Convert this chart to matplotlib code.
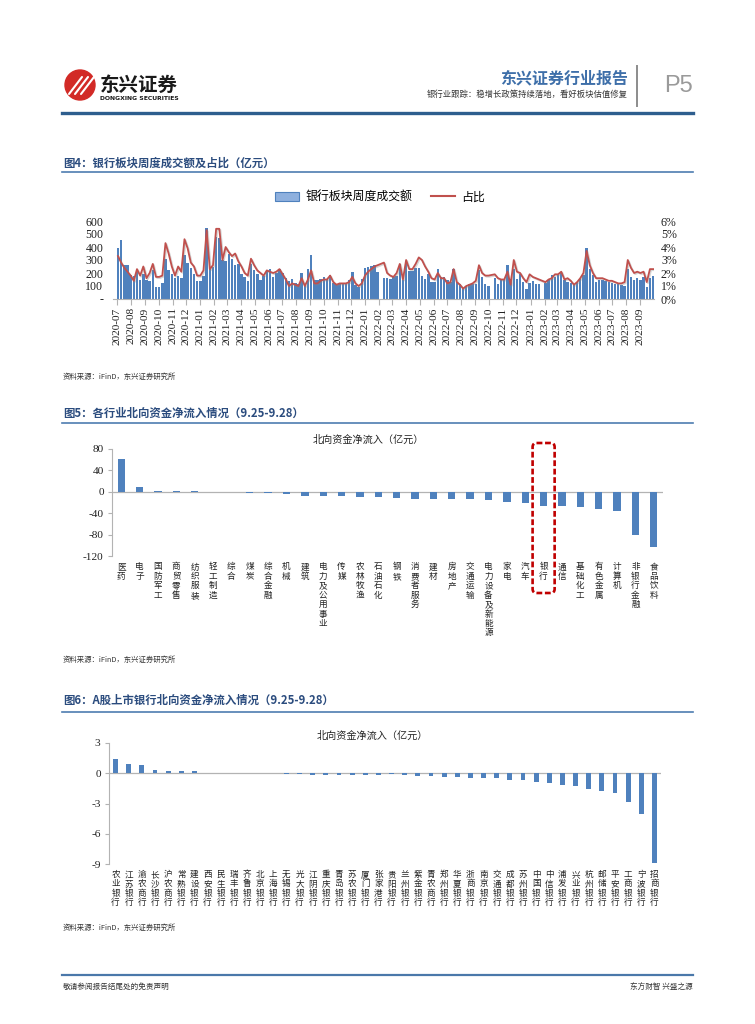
import numpy as np
import pandas as pd
import matplotlib
matplotlib.use('Agg')
import matplotlib.pyplot as plt
import matplotlib.patheffects as pe
import matplotlib.transforms as mtransforms
from matplotlib.patches import Circle, FancyBboxPatch, Rectangle
from matplotlib.lines import Line2D

W, H = 755, 1024
CJK = ['Noto Sans CJK SC', 'DejaVu Sans']
SERIF = ['Liberation Serif', 'Noto Sans CJK SC']
plt.rcParams['font.family'] = SERIF
plt.rcParams['axes.unicode_minus'] = False

nan = np.nan

# ---- fig 4: weekly bank turnover (亿元) and share of market (%) ----
vol_2020 = [395, 455, 260, 265, 185, 180, 205, 150, 195, 145, 140, 225, 95,
            95, 120, 305, 225, 190, 160, 180, 160, 335, 280, 235, 190, 140]
vol_2021 = [140, 180, 545, 235, 250, 480, 470, 300, 290, 350, 310, 260, 270,
            195, 170, 135, 272, 225, 195, 143, 177, 213, 228, 169, 200, 228,
            203, 161, 138, 151, 126, 118, 200, 118, 228, 341, 144, 144, 156,
            170, 156, 187, 126, 113, 118, 126, 118, 144, 208, 105, 92, 156, 238]
vol_2022 = [246, 251, 262, 208, nan, 165, 162, 156, 169, 180, 272, 144,
            285, 213, 213, 238, 240, 177, 156, 190, 131, 131, 228, 167, 167,
            144, 131, 228, 131, 118, 85, 100, 118, 118, 118, 220, 169, 118, 100,
            nan, 162, 118, 144, 144, 259, 156, 233, 156, 195, 131, 74, 126]
vol_2023 = [136, 118, 118, nan, 126, 144, 187, 169, 182, 203, 144, 131, 126,
            105, 131, 156, 187, 392, 233, 182, 131, 144, 144, 136, 131, 126,
            118, 118, 105, 100, 233, 169, 144, 162, 144, 169, 92, 162, 174]

share_2020 = [3.3, 2.8, 2.4, 2.1, 1.8, 1.4, 2.3, 1.8, 2.5, 1.6, 2.0, 2.7, 1.7,
              1.7, 1.8, 4.3, 3.5, 2.5, 1.8, 2.5, 2.1, 4.6, 3.9, 2.8, 2.5, 1.8]
share_2021 = [1.8, 2.2, 5.3, 2.3, 2.6, 5.4, 5.4, 3.0, 4.0, 3.6, 3.3, 3.5, 2.9,
              2.5, 2.0, 1.8, 3.1, 2.6, 2.2, 2.0, 1.8, 2.2, 2.1, 2.0, 2.1, 2.3,
              1.9, 1.5, 1.0, 1.2, 1.1, 1.0, 1.6, 1.0, 1.5, 2.2, 1.2, 1.2, 1.4,
              1.5, 1.5, 1.8, 1.3, 1.1, 1.2, 1.2, 1.2, 1.3, 1.7, 1.2, 1.0, 1.2, 1.8]
share_2022 = [2.1, 2.3, 2.5, 2.6, nan, 2.8, 2.0, 1.8, 1.7, 2.0, 2.7, 1.5,
              3.0, 2.3, 2.3, 2.7, 3.2, 3.0, 2.5, 2.1, 1.6, 1.5, 2.0, 1.6, 1.6,
              1.2, 1.3, 2.3, 1.3, 1.1, 0.8, 1.0, 1.1, 1.2, 1.4, 2.6, 2.0, 1.8, 1.8,
              nan, 1.9, 1.6, 1.5, 1.5, 2.1, 1.1, 3.0, 2.1, 2.0, 1.6, 1.3, 1.9]
share_2023 = [1.7, 1.6, 1.5, nan, 1.3, 1.5, 1.6, 1.9, 1.9, 2.1, 1.5, 1.6, 1.4,
              1.1, 1.3, 1.6, 2.0, 3.7, 2.6, 2.0, 1.6, 1.6, 1.6, 1.5, 1.4, 1.4,
              1.3, 1.2, 1.2, 1.3, 3.0, 2.4, 2.0, 2.1, 2.0, 2.1, 1.3, 2.3, 2.3]

first_week = '2020-07-03'
month_ticks = pd.date_range('2020-07-01', '2023-09-01', freq='MS')

# ---- fig 5: northbound net inflow by industry (亿元) ----
ind_names = ['医药', '电子', '国防军工', '商贸零售', '纺织服装', '轻工制造', '综合', '煤炭',
             '综合金融', '机械', '建筑', '电力及公用事业', '传媒', '农林牧渔', '石油石化',
             '钢铁', '消费者服务', '建材', '房地产', '交通运输', '电力设备及新能源', '家电',
             '汽车', '银行', '通信', '基础化工', '有色金属', '计算机', '非银行金融', '食品饮料']
ind_flow = [62, 8.3, 2.0, 0.8, 0.6, 0.5, 0.3, -3, -3, -3.2, -7, -8, -8.5, -10, -10,
            -12, -14, -14, -14, -14, -16, -19, -21.5, -26.5, -26.5, -28.5, -31.5,
            -35.5, -80.5, -104]

# ---- fig 6: northbound net inflow by listed bank (亿元) ----
bank_names = ['农业银行', '江苏银行', '渝农商行', '长沙银行', '沪农商行', '常熟银行', '建设银行',
              '西安银行', '民生银行', '瑞丰银行', '齐鲁银行', '北京银行', '上海银行', '无锡银行',
              '光大银行', '江阴银行', '重庆银行', '青岛银行', '苏农银行', '厦门银行', '张家港行',
              '贵阳银行', '兰州银行', '紫金银行', '青农商行', '郑州银行', '华夏银行', '浙商银行',
              '南京银行', '交通银行', '成都银行', '苏州银行', '中国银行', '中信银行', '浦发银行',
              '兴业银行', '杭州银行', '邮储银行', '平安银行', '工商银行', '宁波银行', '招商银行']
bank_flow = [1.4, 0.9, 0.85, 0.35, 0.25, 0.25, 0.25, 0.04, 0.03, 0.03, 0.02, 0.02,
             -0.02, -0.03, -0.04, -0.14, -0.15, -0.15, -0.16, -0.17, -0.18,
             -0.1, -0.13, -0.23, -0.23, -0.33, -0.33, -0.43, -0.43, -0.52, -0.65,
             -0.65, -0.82, -0.98, -1.18, -1.3, -1.57, -1.73, -2.0, -2.85, -4.05, -8.9]

BLUE = '#4F81BD'
RED = '#C0504D'
AXGRAY = '#B3B3B3'
TITLE_BLUE = '#2B4C7E'


def rect(x0, y0, x1, y1):
    return [x0 / W, 1 - y1 / H, (x1 - x0) / W, (y1 - y0) / H]


fig = plt.figure(figsize=(W / 100, H / 100), dpi=100)
page = fig.add_axes([0, 0, 1, 1])
page.set_xlim(0, W)
page.set_ylim(H, 0)
page.axis('off')

# header
page.add_patch(Circle((80, 85), 15, color='#D22A26'))
for k in range(3):
    page.plot([69 + k * 6, 82 + k * 6], [94, 77], color='white', lw=1.5, solid_capstyle='round')
page.text(100, 85, '东兴证券', fontsize=14, fontweight='bold', family=CJK, va='center', color='#1A1A1A')
page.text(100, 99, 'DONGXING SECURITIES', fontsize=4.4, fontweight='bold', family=['DejaVu Sans'],
          va='center', color='#1A1A1A')
page.text(628, 78, '东兴证券行业报告', fontsize=11.5, fontweight='bold', family=CJK, color='#3E6FA9',
          ha='right', va='center')
page.text(628, 94, '银行业跟踪：稳增长政策持续落地，看好板块估值修复', fontsize=6.0, family=CJK,
          color='#333333', ha='right', va='center')
page.plot([637, 637], [66, 106], color='#8C8C8C', lw=1.4)
page.text(664, 86, 'P5', fontsize=17, color='#9A9A9A', family=['Liberation Sans'], va='center')
page.plot([62, 693], [113, 113], color='#2E5E8E', lw=2.4)

# section titles, rules and sources
sections = [(163, 172, '图4：银行板块周度成交额及占比（亿元）', 377),
            (413, 423, '图5：各行业北向资金净流入情况（9.25-9.28）', 660),
            (700, 712, '图6：A股上市银行北向资金净流入情况（9.25-9.28）', 928)]
for ty, ly, title, sy in sections:
    page.text(63, ty, title, fontsize=8.2, fontweight='bold', family=CJK, color=TITLE_BLUE, va='center')
    page.plot([62, 693], [ly, ly], color='#4E7DB0', lw=1.2)
    page.text(63, sy, '资料来源：iFinD，东兴证券研究所', fontsize=5.3, family=CJK, color='#333333',
              va='center', style='italic')

# footer
page.plot([62, 693], [975, 975], color='#4A78AA', lw=1.6)
page.text(63, 987, '敬请参阅报告结尾处的免责声明', fontsize=5.5, family=CJK, color='#333333', va='center')
page.text(693, 987, '东方财智 兴盛之源', fontsize=5.5, family=CJK, color='#333333', va='center', ha='right')

# ---------------- chart 1 ----------------
vol = np.array(vol_2020 + vol_2021 + vol_2022 + vol_2023, dtype=float)
share = np.array(share_2020 + share_2021 + share_2022 + share_2023, dtype=float)
weeks = pd.date_range(first_week, periods=len(vol), freq='7D')

ax1 = fig.add_axes(rect(113, 221, 654, 299))
ax1.bar(weeks, vol, width=5.4, color=BLUE, edgecolor='none', zorder=2)
ax1.set_xlim(pd.Timestamp('2020-06-22'), pd.Timestamp('2023-10-01'))
ax1.set_ylim(0, 600)
ax1.set_yticks(range(0, 601, 100))
ax1.set_yticklabels(['-'] + [str(v) for v in range(100, 601, 100)])
ax1.set_xticks(month_ticks)
ax1.set_xticklabels([d.strftime('%Y-%m') for d in month_ticks], rotation=90, fontsize=8.2)
ax1.tick_params(axis='y', length=0, pad=7, labelsize=8.6, colors='#222222')
ax1.tick_params(axis='x', length=4, width=0.8, color=AXGRAY, pad=2, colors='#222222')
for lbl in ax1.get_xticklabels():
    lbl.set_color('#222222')
for s in ['top', 'left', 'right']:
    ax1.spines[s].set_visible(False)
ax1.spines['bottom'].set_color(AXGRAY)

ax1r = ax1.twinx()
ok = ~np.isnan(share)
ax1r.plot(weeks[ok], share[ok] / 100, color=RED, lw=1.3, zorder=3,
          path_effects=[pe.SimpleLineShadow(offset=(0.8, -0.8), shadow_color='#888888', alpha=0.35),
                        pe.Normal()])
ax1r.set_ylim(0, 0.06)
ax1r.set_yticks(np.arange(0, 0.061, 0.01))
ax1r.set_yticklabels([f'{v}%' for v in range(0, 7)])
ax1r.tick_params(axis='y', length=0, pad=5, labelsize=8.6, colors='#222222')
for s in ['top', 'left', 'right', 'bottom']:
    ax1r.spines[s].set_visible(False)

handles = [Rectangle((0, 0), 1, 1, facecolor='#8EB0DE', edgecolor=BLUE, lw=0.8),
           Line2D([0], [0], color=RED, lw=1.5)]
fig.legend(handles, ['银行板块周度成交额', '占比'], loc='center', bbox_to_anchor=(380 / W, 1 - 197 / H),
           ncol=2, frameon=False, prop={'family': CJK, 'size': 8.6}, handlelength=2.0,
           handleheight=0.8, columnspacing=1.6, handletextpad=0.5)


def stacked_labels(ax, names, top_frac, size):
    trans = mtransforms.blended_transform_factory(ax.transData, ax.transAxes)
    for i, name in enumerate(names):
        ax.text(i, top_frac, '\n'.join(name), transform=trans, ha='center', va='top',
                fontsize=size, family=CJK, linespacing=1.06, color='#222222')


def bar_axes(ax, vals, ylim, yticks, width):
    ax.bar(range(len(vals)), vals, width=width, color=BLUE, zorder=2)
    ax.set_xlim(-0.5, len(vals) - 0.5)
    ax.set_ylim(*ylim)
    ax.set_yticks(yticks)
    ax.set_yticklabels([f'{v:g}' for v in yticks])
    ax.set_xticks([])
    ax.axhline(0, color=AXGRAY, lw=0.9, zorder=1)
    for s in ['top', 'right', 'bottom']:
        ax.spines[s].set_visible(False)
    ax.spines['left'].set_color(AXGRAY)
    ax.tick_params(axis='y', length=3, color=AXGRAY, pad=3, labelsize=8.2, colors='#222222')


# ---------------- chart 2 ----------------
ax2 = fig.add_axes(rect(112, 449, 663, 556))
bar_axes(ax2, ind_flow, (-120, 80), [-120, -80, -40, 0, 40, 80], 0.4)
stacked_labels(ax2, ind_names, -0.06, 6.2)
page.text(368, 440, '北向资金净流入（亿元）', fontsize=7.3, family=CJK, ha='center', va='center',
          color='#222222')

# ---------------- chart 3 ----------------
ax3 = fig.add_axes(rect(109, 743, 661, 864))
bar_axes(ax3, bank_flow, (-9, 3), [-9, -6, -3, 0, 3], 0.38)
stacked_labels(ax3, bank_names, -0.05, 6.2)
page.text(372, 736, '北向资金净流入（亿元）', fontsize=7.3, family=CJK, ha='center', va='center',
          color='#222222')

# red dashed highlight around 银行 in chart 2
top = fig.add_axes([0, 0, 1, 1])
top.set_xlim(0, W)
top.set_ylim(H, 0)
top.axis('off')
top.patch.set_alpha(0)
bi = ind_names.index('银行')
disp = ax2.transData.transform([(bi - 0.6, 80), (bi + 0.6, -120)])
(bx0, by0), (bx1, by1) = top.transData.inverted().transform(disp)
top.add_patch(FancyBboxPatch((bx0, by0 - 6), bx1 - bx0, (by1 + 37) - (by0 - 6),
                             boxstyle='round,pad=0,rounding_size=4', fill=False,
                             edgecolor='#C00000', lw=1.9, linestyle=(0, (2.2, 1.0))))

fig.savefig('out.png', dpi=100)
